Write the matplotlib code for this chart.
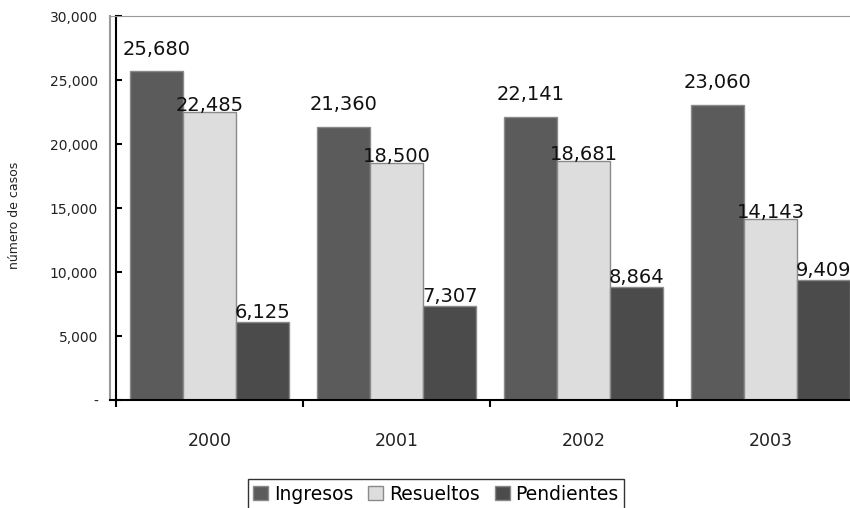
import matplotlib.pyplot as plt
import numpy as np

years = ["2000", "2001", "2002", "2003"]
series_names = ["Ingresos", "Resueltos", "Pendientes"]
ingresos = [25680, 21360, 22141, 23060]
resueltos = [22485, 18500, 18681, 14143]
pendientes = [6125, 7307, 8864, 9409]

colors = ["#5b5b5b", "#dddddd", "#4b4b4b"]
# label offsets in points (dy above bar top), per series
label_dy = [9, -2, 0]


def _fmt_tick(v, pos=None):
    if v == 0:
        return "-"
    return f"{int(v):,}"


fig = plt.figure(figsize=(8.5, 5.08), dpi=100)
W, H = 850, 508
# plot area: gray frame from x=110, axis at x=116, right edge beyond figure
left_px, right_px, top_px, bottom_px = 110, 864, 16, 400
ax = fig.add_axes([left_px / W, 1 - bottom_px / H,
                   (right_px - left_px) / W, (bottom_px - top_px) / H])

px_per_unit = 187.0
x0 = -0.5 - (116 - left_px) / px_per_unit
ax.set_xlim(x0, 3.5)
ax.set_ylim(0, 30000)

x = np.arange(len(years))
bw = 0.285
all_vals = [ingresos, resueltos, pendientes]
for i, (name, vals) in enumerate(zip(series_names, all_vals)):
    pos = x + (i - 1) * bw
    ax.bar(pos, vals, width=bw, color=colors[i], edgecolor="#8a8a8a",
           linewidth=1.0, label=name, zorder=2)
    for xp, v in zip(pos, vals):
        ax.annotate(f"{v:,}", (xp, v), xytext=(0, label_dy[i]),
                    textcoords="offset points", ha="center", va="bottom",
                    fontsize=14, color="#111111", zorder=4)

# spines
for s in ["top", "right"]:
    ax.spines[s].set_color("#999999")
ax.spines["right"].set_visible(False)
ax.spines["left"].set_position(("data", -0.5))
ax.spines["left"].set_color("black")
ax.spines["left"].set_linewidth(1.5)
ax.spines["bottom"].set_color("black")
ax.spines["bottom"].set_linewidth(1.5)
ax.plot([x0, x0], [0, 30000], color="#999999", lw=1.5, clip_on=False, zorder=1)

ax.set_yticks(np.arange(0, 30001, 5000))
ax.yaxis.set_major_formatter(plt.FuncFormatter(_fmt_tick))
ax.tick_params(axis="y", direction="in", length=4, width=1.5, pad=13,
               labelsize=10, labelcolor="#222222")

ax.set_xticks([-0.5, 0.5, 1.5, 2.5, 3.5])
ax.set_xticklabels([])
ax.set_xticks(x, minor=True)
ax.set_xticklabels(years, minor=True)
ax.tick_params(axis="x", which="major", direction="out", length=5, width=1.5)
ax.tick_params(axis="x", which="minor", length=0, pad=23, labelsize=12.5,
               labelcolor="#222222")

fig.text(15 / W, 1 - 215 / H, "número de casos", rotation=90,
         ha="center", va="center", fontsize=9, color="#222222")

leg = fig.legend(loc="upper center", bbox_to_anchor=(436 / W, 1 - 479 / H),
                 ncol=3, frameon=True, fancybox=False, fontsize=13.5,
                 handlelength=0.8, handleheight=0.8, handletextpad=0.3,
                 columnspacing=0.8, borderpad=0.3, borderaxespad=0)
leg.get_frame().set_edgecolor("black")
leg.get_frame().set_linewidth(1.0)

fig.savefig("out.png", dpi=100)
